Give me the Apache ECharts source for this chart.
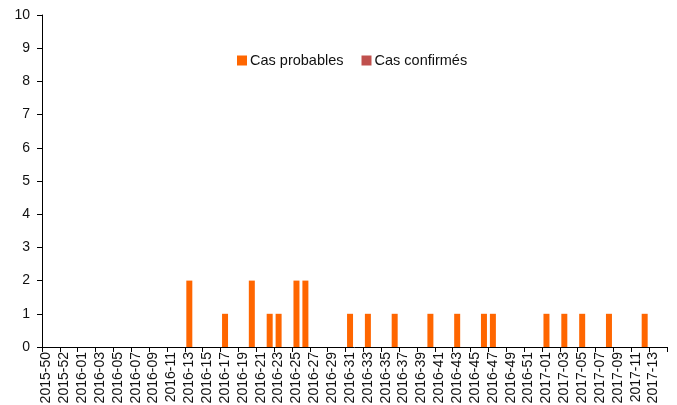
<!DOCTYPE html>
<html>
<head>
<meta charset="utf-8">
<script src="https://cdn.jsdelivr.net/npm/echarts@6/dist/echarts.min.js"></script>
<style>
html,body{margin:0;padding:0;background:#fff;}
#c{width:677px;height:405px;}
</style>
</head>
<body>
<div id="c"></div>
<script>
const weeks = [
 "2015-50","2015-51","2015-52","2015-53",
 "2016-01","2016-02","2016-03","2016-04","2016-05","2016-06","2016-07","2016-08","2016-09","2016-10",
 "2016-11","2016-12","2016-13","2016-14","2016-15","2016-16","2016-17","2016-18","2016-19","2016-20",
 "2016-21","2016-22","2016-23","2016-24","2016-25","2016-26","2016-27","2016-28","2016-29","2016-30",
 "2016-31","2016-32","2016-33","2016-34","2016-35","2016-36","2016-37","2016-38","2016-39","2016-40",
 "2016-41","2016-42","2016-43","2016-44","2016-45","2016-46","2016-47","2016-48","2016-49","2016-50",
 "2016-51","2016-52",
 "2017-01","2017-02","2017-03","2017-04","2017-05","2017-06","2017-07","2017-08","2017-09","2017-10",
 "2017-11","2017-12","2017-13","2017-14"
];
const casProbables = [
 0,0,0,0,
 0,0,0,0,0,0,0,0,0,0,
 0,0,2,0,0,0,1,0,0,2,
 0,1,1,0,2,2,0,0,0,0,
 1,0,1,0,0,1,0,0,0,1,
 0,0,1,0,0,1,1,0,0,0,
 0,0,
 1,0,1,0,1,0,0,1,0,0,
 0,1,0,0
];
const casConfirmes = weeks.map(() => 0);
const yTicks = {min: 0, max: 10, interval: 1};

const font = '"Liberation Sans", Arial, sans-serif';
const chart = echarts.init(document.getElementById('c'), null, {renderer: 'canvas'});
chart.setOption({
  animation: false,
  backgroundColor: '#fff',
  textStyle: {fontFamily: font},
  grid: {left: 42, right: 10, top: 15, bottom: 58, containLabel: false, outerBoundsMode: 'none'},
  legend: {
    left: 232, top: 48,
    icon: 'rect', itemWidth: 10, itemHeight: 10, itemGap: 18,
    textStyle: {fontFamily: font, fontSize: 14.5, color: '#111', padding: [0, 0, 0, -2]},
    data: ['Cas probables', 'Cas confirmés']
  },
  xAxis: {
    type: 'category',
    data: weeks,
    boundaryGap: true,
    axisLine: {lineStyle: {color: '#000', width: 1}},
    axisTick: {show: true, interval: 1, length: 5, lineStyle: {color: '#000'}},
    axisLabel: {interval: 1, rotate: 90, margin: 5, fontFamily: font, fontSize: 14, color: '#111'},
    splitLine: {show: false}
  },
  yAxis: {
    type: 'value',
    min: yTicks.min, max: yTicks.max, interval: yTicks.interval,
    axisLine: {show: true, lineStyle: {color: '#000', width: 1}},
    axisTick: {show: true, length: 5, lineStyle: {color: '#000'}},
    axisLabel: {margin: 12, fontFamily: font, fontSize: 14, color: '#111'},
    splitLine: {show: false}
  },
  series: [
    {
      name: 'Cas probables', type: 'bar', stack: 'cas',
      data: casProbables, barWidth: 6,
      itemStyle: {color: '#FF6600', borderWidth: 0}
    },
    {
      name: 'Cas confirmés', type: 'bar', stack: 'cas',
      data: casConfirmes, barWidth: 6,
      itemStyle: {color: '#C0504D', borderWidth: 0}
    }
  ]
});
</script>
</body>
</html>
